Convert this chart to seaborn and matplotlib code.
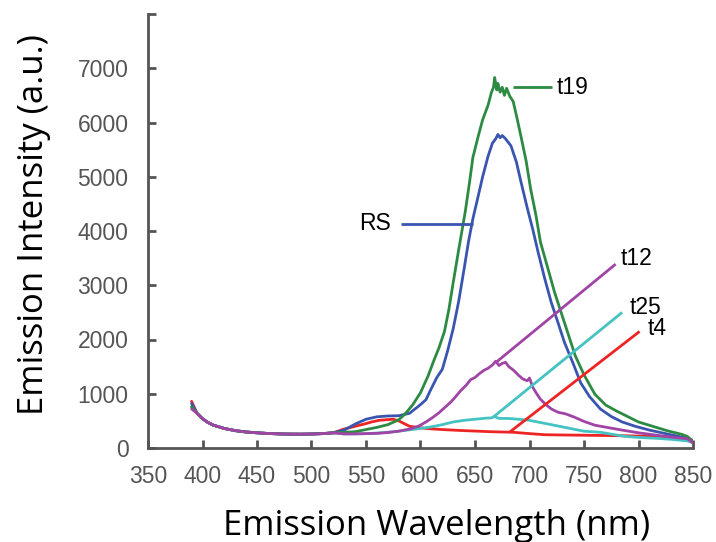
import matplotlib
matplotlib.use("Agg")
import matplotlib.pyplot as plt
import seaborn as sns
import pandas as pd

# Emission spectra (wavelength in nm, intensity in a.u.)
base_wl = [390, 395, 400, 405, 410, 420, 430, 440, 450, 460, 470, 480, 490, 500, 510, 520]
base_int = [820, 640, 540, 470, 420, 360, 320, 295, 280, 268, 260, 256, 255, 258, 265, 280]

rs_wl = [530, 540, 550, 560, 570, 580, 590, 600, 605, 610, 615, 620, 625, 630, 635, 640, 644,
         648, 653, 657, 662, 666, 669, 671, 673, 675, 678, 683, 688, 692, 698, 703, 708, 714,
         720, 726, 732, 740, 747, 755, 765, 775, 785, 797, 810, 826, 840, 845, 850]
rs_int = [330, 440, 530, 575, 590, 595, 640, 800, 890, 1100, 1300, 1450, 1800, 2200, 2700,
          3300, 3800, 4220, 4650, 5000, 5380, 5620, 5700, 5780, 5720, 5760, 5700, 5570, 5270,
          4920, 4420, 4030, 3600, 3120, 2680, 2320, 1950, 1560, 1200, 950, 720, 580, 480, 400,
          330, 260, 200, 180, 120]

t19_wl = [530, 540, 550, 560, 570, 580, 586, 593, 600, 607, 612, 617, 622, 626, 630, 635, 641,
          645, 648, 653, 657, 662, 665, 667, 668, 670, 671, 673, 675, 677, 679, 682, 685, 688,
          692, 697, 701, 706, 710, 717, 723, 729, 735, 742, 750, 760, 770, 780, 790, 800, 813,
          826, 840, 845, 850]
t19_int = [290, 300, 340, 380, 430, 520, 630, 800, 1020, 1330, 1600, 1850, 2150, 2550, 3050,
           3650, 4350, 4900, 5350, 5750, 6050, 6320, 6550, 6650, 6830, 6600, 6720, 6560, 6650,
           6500, 6630, 6480, 6390, 6130, 5760, 5280, 4780, 4280, 3800, 3300, 2870, 2500, 2130,
           1700, 1350, 990, 790, 680, 580, 480, 400, 320, 250, 210, 120]

t12_wl = [530, 540, 550, 560, 570, 580, 590, 598, 605, 611, 617, 623, 628, 632, 637, 642, 646,
          650, 654, 658, 662, 666, 669, 672, 675, 678, 681, 685, 690, 694, 698, 700, 703, 706,
          710, 715, 720, 726, 733, 741, 750, 760, 771, 785, 800, 815, 830, 840, 845, 850]
t12_int = [260, 260, 265, 270, 285, 310, 350, 400, 480, 560, 650, 760, 850, 940, 1060, 1160,
           1260, 1300, 1370, 1430, 1470, 1530, 1600, 1520, 1560, 1580, 1500, 1440, 1340, 1270,
           1240, 1290, 1120, 1020, 900, 800, 720, 660, 630, 570, 490, 420, 380, 330, 280, 240,
           200, 180, 170, 90]

t25_wl = [530, 540, 550, 560, 570, 580, 590, 600, 610, 620, 630, 640, 650, 660, 665, 668, 672,
          680, 690, 700, 710, 720, 730, 741, 750, 765, 787, 800, 815, 830, 845, 850]
t25_int = [260, 262, 265, 275, 290, 310, 335, 360, 390, 430, 480, 510, 530, 550, 555, 580, 545,
           545, 530, 510, 470, 430, 390, 345, 310, 290, 215, 195, 180, 160, 130, 100]

t4_wl = [530, 540, 550, 555, 562, 568, 575, 580, 585, 590, 598, 605, 620, 640, 665, 685, 700,
         714, 730, 750, 770, 790, 810, 830, 845, 850]
t4_int = [350, 400, 450, 480, 510, 520, 530, 500, 450, 400, 380, 360, 340, 320, 300, 290, 265,
          245, 240, 235, 230, 225, 215, 205, 180, 140]

start_390 = {"RS": 820, "t19": 760, "t12": 720, "t25": 760, "t4": 860}

series = {
    "t4": (t4_wl, t4_int),
    "t25": (t25_wl, t25_int),
    "RS": (rs_wl, rs_int),
    "t19": (t19_wl, t19_int),
    "t12": (t12_wl, t12_int),
}

palette = {
    "t4": "#EE2424",
    "t25": "#45C2C2",
    "RS": "#3A55B0",
    "t19": "#2D8A42",
    "t12": "#A044A6",
}

frames = []
for name, (wl, inten) in series.items():
    b = list(base_int)
    b[0] = start_390[name]
    frames.append(pd.DataFrame({"wavelength": base_wl + list(wl),
                                "intensity": b + list(inten),
                                "sample": name}))
df = pd.concat(frames, ignore_index=True)

sns.set_theme(style="ticks")
plt.rcParams["font.family"] = ["Liberation Sans", "DejaVu Sans"]

fig = plt.figure(figsize=(7.16, 5.42), dpi=100)
ax = fig.add_axes([148 / 716, (542 - 448) / 542, (693 - 148) / 716, (448 - 14) / 542])

sns.lineplot(data=df, x="wavelength", y="intensity", hue="sample", palette=palette,
             estimator=None, sort=True, linewidth=2.0, legend=False, ax=ax)

# Leader lines and sample names
label_lines = [
    ("t19", (685, 721), (6650, 6650), (725, 6650)),
    ("RS", (582, 648), (4130, 4130), None),
    ("t12", (669, 779), (1574, 3389), (784, 3500)),
    ("t25", (667, 785), (574, 2500), (792, 2590)),
    ("t4", (682, 801), (296, 2148), (808, 2210)),
]
for name, xs, ys, txt in label_lines:
    ax.plot(xs, ys, color=palette[name], linewidth=2.0, solid_capstyle="butt")
    if txt is not None:
        ax.text(txt[0], txt[1], name, fontsize=16.5, color="black", ha="left", va="center")
ax.text(573, 4130, "RS", fontsize=16.5, color="black", ha="right", va="center")

ax.set_xlim(350, 850)
ax.set_ylim(0, 8000)
ax.set_xticks(range(350, 851, 50))
ax.set_yticks(range(0, 8001, 1000))
ax.set_yticklabels([str(v) for v in range(0, 8000, 1000)] + [""])

gray = "#555555"
for side in ("top", "right"):
    ax.spines[side].set_visible(False)
for side in ("left", "bottom"):
    ax.spines[side].set_color(gray)
    ax.spines[side].set_linewidth(2.0)
ax.tick_params(axis="both", direction="in", length=6, width=2.0, color=gray,
               labelcolor=gray, labelsize=16.5)
ax.tick_params(axis="x", pad=12)
ax.tick_params(axis="y", pad=14)

label_font = dict(family=["Open Sans", "DejaVu Sans"], fontsize=25, color="black")
ax.set_xlabel("Emission Wavelength (nm)", **label_font)
ax.set_ylabel("Emission Intensity (a.u.)", **label_font)
ax.xaxis.set_label_coords(0.53, -0.20)
ax.xaxis.label.set_va("baseline")
ax.yaxis.set_label_coords(-0.209, 0.514)
ax.yaxis.label.set_va("center")

fig.savefig("out.png", dpi=100)
